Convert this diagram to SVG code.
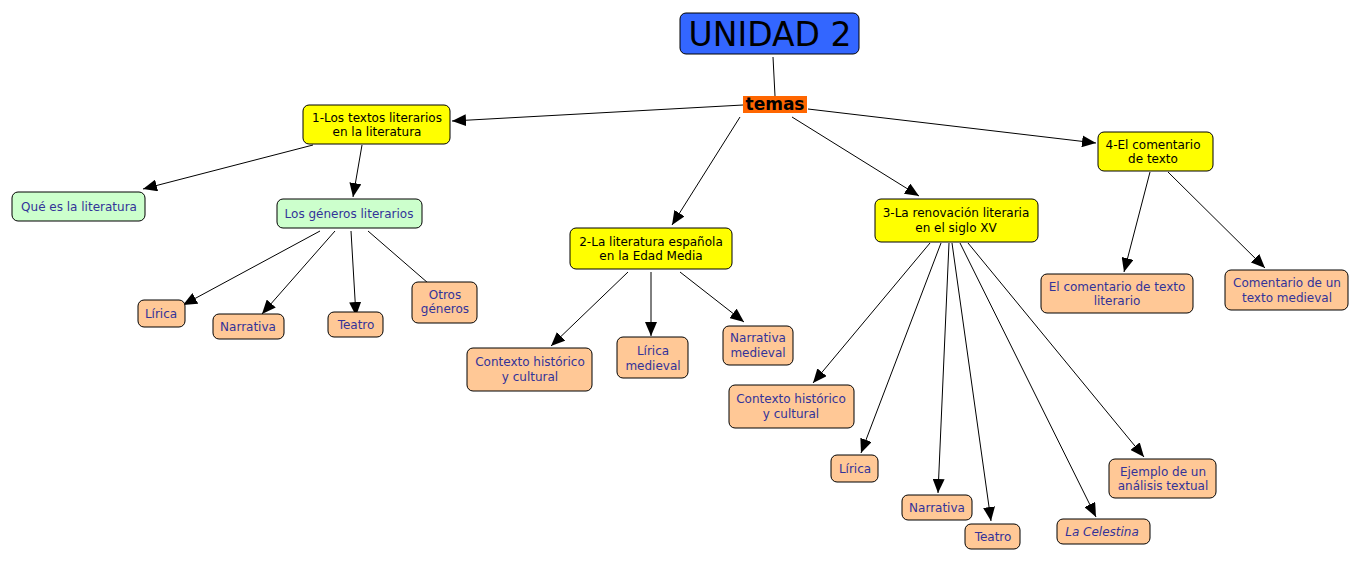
<svg xmlns="http://www.w3.org/2000/svg" width="1360" height="562" viewBox="0 0 1360 562">
<style>
.n rect{stroke:#000;stroke-width:1}
.y rect{fill:#ffff00}
.g rect{fill:#ccffcc}
.o rect{fill:#ffc896}
text{font-family:"DejaVu Sans",Verdana,sans-serif;font-size:12px;text-anchor:middle}
.y text{fill:#000}
.g text,.o text{fill:#333399}
#connectors line{stroke:#000;stroke-width:1}
.a{marker-end:url(#arr)}
</style>
<defs>
<marker id="arr" markerUnits="userSpaceOnUse" markerWidth="15" markerHeight="12" refX="14" refY="6" orient="auto">
<path d="M0,0 L14,6 L0,12 Z" fill="#000"/>
</marker>
</defs>
<rect width="1360" height="562" fill="#fff"/>
<g id="connectors">
<line x1="773" y1="57" x2="775" y2="96"/>
<line class="a" x1="743" y1="105" x2="452" y2="121"/>
<line class="a" x1="740" y1="117" x2="672" y2="225"/>
<line class="a" x1="792" y1="117" x2="919" y2="196"/>
<line class="a" x1="808" y1="109" x2="1096" y2="143"/>
<line class="a" x1="313" y1="145" x2="143" y2="189"/>
<line class="a" x1="362" y1="145" x2="353" y2="197"/>
<line class="a" x1="320" y1="231" x2="183" y2="305"/>
<line class="a" x1="335" y1="231" x2="262" y2="314"/>
<line class="a" x1="351" y1="231" x2="356" y2="316"/>
<line x1="368" y1="231" x2="428" y2="283"/>
<line class="a" x1="628" y1="272" x2="551" y2="346"/>
<line class="a" x1="651" y1="272" x2="651" y2="336"/>
<line class="a" x1="680" y1="272" x2="744" y2="322"/>
<line class="a" x1="930" y1="243" x2="813" y2="383"/>
<line class="a" x1="941" y1="243" x2="861" y2="453"/>
<line class="a" x1="949" y1="243" x2="938" y2="493"/>
<line class="a" x1="952" y1="243" x2="991" y2="521"/>
<line class="a" x1="960" y1="243" x2="1096" y2="517"/>
<line class="a" x1="968" y1="243" x2="1144" y2="457"/>
<line class="a" x1="1150" y1="172" x2="1124" y2="272"/>
<line class="a" x1="1168" y1="172" x2="1265" y2="268"/>
</g>
<g id="unidad2">
<rect x="680" y="13" width="179" height="41" rx="6" fill="#3366ff" stroke="#000"/>
<text x="770" y="46" style="font-size:33px" fill="#000">UNIDAD 2</text>
</g>
<g id="temas">
<rect x="743" y="96" width="64" height="17" fill="#ff6600"/>
<text x="775" y="110" style="font-size:17px;font-weight:bold" fill="#000">temas</text>
</g>
<g id="n1" class="n y">
<rect x="303" y="105" width="147" height="39" rx="6"/>
<text x="377" y="122">1-Los textos literarios</text>
<text x="377" y="136">en la literatura</text>
</g>
<g id="n_que" class="n g">
<rect x="12" y="192" width="133" height="29" rx="6"/>
<text x="79" y="211">Qué es la literatura</text>
</g>
<g id="n_generos" class="n g">
<rect x="277" y="199" width="145" height="29" rx="6"/>
<text x="349" y="218">Los géneros literarios</text>
</g>
<g id="n_lirica1" class="n o">
<rect x="138" y="300" width="47" height="27" rx="6"/>
<text x="161" y="318">Lírica</text>
</g>
<g id="n_narrativa1" class="n o">
<rect x="213" y="314" width="71" height="25" rx="6"/>
<text x="248" y="331">Narrativa</text>
</g>
<g id="n_teatro1" class="n o">
<rect x="328" y="312" width="55" height="25" rx="6"/>
<text x="356" y="329">Teatro</text>
</g>
<g id="n_otros" class="n o">
<rect x="412" y="282" width="65" height="41" rx="6"/>
<text x="445" y="299">Otros</text>
<text x="445" y="313">géneros</text>
</g>
<g id="n2" class="n y">
<rect x="570" y="228" width="162" height="41" rx="6"/>
<text x="651" y="246">2-La literatura española</text>
<text x="651" y="260">en la Edad Media</text>
</g>
<g id="n_contexto2" class="n o">
<rect x="467" y="348" width="125" height="43" rx="6"/>
<text x="530" y="366">Contexto histórico</text>
<text x="530" y="381">y cultural</text>
</g>
<g id="n_liricamed" class="n o">
<rect x="617" y="337" width="71" height="41" rx="6"/>
<text x="653" y="355">Lírica</text>
<text x="653" y="370">medieval</text>
</g>
<g id="n_narrmed" class="n o">
<rect x="723" y="326" width="70" height="39" rx="6"/>
<text x="758" y="342">Narrativa</text>
<text x="758" y="357">medieval</text>
</g>
<g id="n3" class="n y">
<rect x="875" y="199" width="163" height="43" rx="6"/>
<text x="956" y="217">3-La renovación literaria</text>
<text x="956" y="232">en el siglo XV</text>
</g>
<g id="n_contexto3" class="n o">
<rect x="729" y="385" width="125" height="43" rx="6"/>
<text x="791" y="403">Contexto histórico</text>
<text x="791" y="418">y cultural</text>
</g>
<g id="n_lirica3" class="n o">
<rect x="831" y="455" width="47" height="27" rx="6"/>
<text x="855" y="473">Lírica</text>
</g>
<g id="n_narrativa3" class="n o">
<rect x="902" y="495" width="70" height="25" rx="6"/>
<text x="937" y="512">Narrativa</text>
</g>
<g id="n_teatro3" class="n o">
<rect x="965" y="524" width="55" height="25" rx="6"/>
<text x="993" y="541">Teatro</text>
</g>
<g id="n_celestina" class="n o">
<rect x="1057" y="519" width="93" height="25" rx="6"/>
<text x="1102" y="536" style="font-style:italic">La Celestina</text>
</g>
<g id="n_ejemplo" class="n o">
<rect x="1109" y="459" width="107" height="39" rx="6"/>
<text x="1163" y="476">Ejemplo de un</text>
<text x="1163" y="490">análisis textual</text>
</g>
<g id="n4" class="n y">
<rect x="1098" y="132" width="115" height="39" rx="6"/>
<text x="1153" y="149">4-El comentario</text>
<text x="1153" y="163">de texto</text>
</g>
<g id="n_comlit" class="n o">
<rect x="1041" y="274" width="152" height="39" rx="6"/>
<text x="1117" y="291">El comentario de texto</text>
<text x="1117" y="305">literario</text>
</g>
<g id="n_commed" class="n o">
<rect x="1225" y="270" width="123" height="40" rx="6"/>
<text x="1287" y="287">Comentario de un</text>
<text x="1287" y="302">texto medieval</text>
</g>
</svg>
